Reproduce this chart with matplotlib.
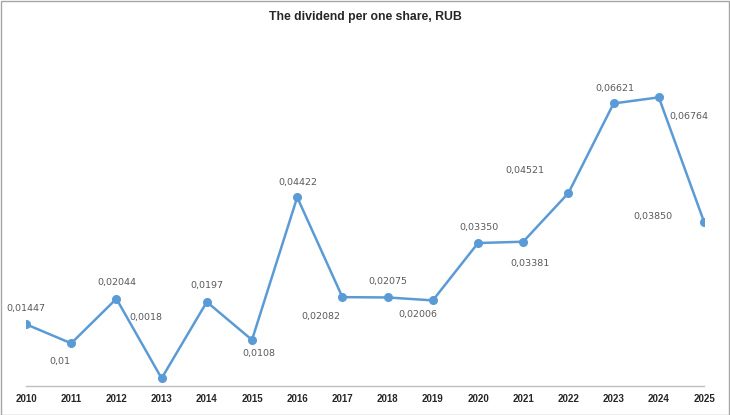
import matplotlib
matplotlib.use('Agg')
import matplotlib.pyplot as plt
from matplotlib.patches import Rectangle

years = list(range(2010, 2026))
dividend = [0.01447, 0.01, 0.02044, 0.0018, 0.0197, 0.0108, 0.04422, 0.02082,
            0.02075, 0.02006, 0.03350, 0.03381, 0.04521, 0.06621, 0.06764, 0.03850]
labels = ['0,01447', '0,01', '0,02044', '0,0018', '0,0197', '0,0108', '0,04422', '0,02082',
          '0,02075', '0,02006', '0,03350', '0,03381', '0,04521', '0,06621', '0,06764', '0,03850']
# label offsets in pixels (dx, dy), Excel had them dragged around by hand
offsets = [(0, 16), (-11, -18), (0, 16), (-16, 61), (0, 16), (7, -14), (1, 15), (-22, -19),
           (0, 16), (-15, -14), (1, 16), (7, -22), (-44, 23), (1, 15), (30, -19), (-51, 5)]

blue = '#5B9BD5'

fig = plt.figure(figsize=(7.3, 4.15), dpi=100)
ax = fig.add_axes([26/730, 1 - 386/415, 678/730, (386 - 44.6)/415])

ax.plot(years, dividend, color=blue, lw=1.8, marker='o', ms=5.5, zorder=3)

for x, y, t, (dx, dy) in zip(years, dividend, labels, offsets):
    ax.annotate(t, (x, y), xytext=(dx, dy), textcoords='offset pixels',
                ha='center', va='center', fontsize=6.8, color='#595959',
                family='DejaVu Sans')

ax.set_xlim(2010, 2025)
ax.set_ylim(0, 0.08)
ax.set_xticks(years)
ax.set_xticklabels([str(y) for y in years], fontsize=7, fontweight='bold',
                   color='#262626', family='Liberation Sans')
ax.set_yticks([])
ax.tick_params(axis='x', length=0, pad=6)
for s in ['left', 'right', 'top']:
    ax.spines[s].set_visible(False)
ax.spines['bottom'].set_color('#bfbfbf')
ax.spines['bottom'].set_linewidth(1)
ax.patch.set_alpha(0)

fig.text(0.5, 1 - 17/415, 'The dividend per one share, RUB', ha='center', va='center',
         fontsize=8.8, fontweight='bold', color='#262626', family='Liberation Sans')

fig.patches.append(Rectangle((0.5/730, 0.5/415), 1 - 1.5/730, 1 - 1.5/415,
                             transform=fig.transFigure, fill=False,
                             edgecolor='#a6a6a6', lw=1))

fig.savefig('out.png', dpi=100)
